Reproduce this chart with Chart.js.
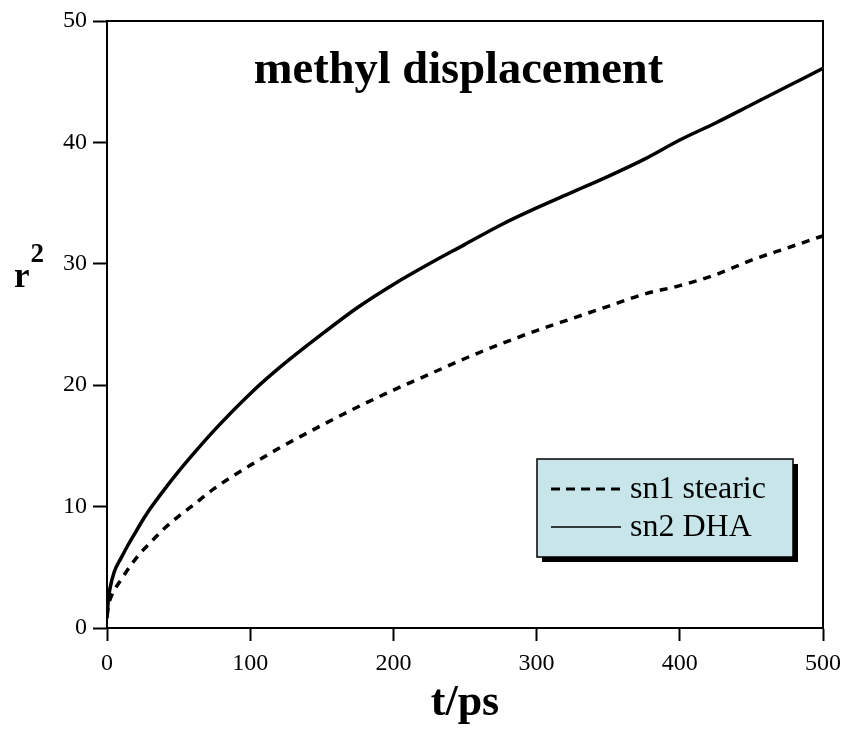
<!DOCTYPE html>
<html>
<head>
<meta charset="utf-8">
<script src="https://cdn.jsdelivr.net/npm/chart.js@4.4.1/dist/chart.umd.min.js"></script>
<style>
  html, body { margin: 0; padding: 0; background: #ffffff; }
  #wrap { width: 843px; height: 733px; position: relative; }
</style>
</head>
<body>
<div id="wrap"><canvas id="c" width="843" height="733"></canvas></div>
<script>
// ---- data ----
const chartTitle = "methyl displacement";
const xAxisTitle = "t/ps";
const yAxisTitleBase = "r";
const yAxisTitleSup = "2";
const times = [0, 1, 2, 5, 10, 15, 20, 25, 30, 40, 50, 60, 75, 100, 120, 150, 175, 200, 225, 250, 275, 300, 325, 350, 375, 400, 425, 450, 475, 500];
const stearicR2 = [1.0, 1.8, 2.3, 3.1, 4.0, 4.9, 5.7, 6.4, 7.0, 8.2, 9.2, 10.1, 11.5, 13.4, 14.8, 16.7, 18.2, 19.6, 20.9, 22.2, 23.4, 24.5, 25.5, 26.5, 27.5, 28.2, 29.1, 30.3, 31.3, 32.3];
const dhaR2 = [0.8, 2.4, 3.2, 4.6, 5.8, 6.9, 7.9, 8.9, 9.8, 11.4, 12.9, 14.3, 16.3, 19.3, 21.4, 24.2, 26.4, 28.3, 30.0, 31.6, 33.2, 34.6, 35.9, 37.2, 38.6, 40.2, 41.6, 43.1, 44.6, 46.1];
const seriesLabels = ["sn1 stearic", "sn2 DHA"];
const xTicks = [0, 100, 200, 300, 400, 500];
const yTicks = [0, 10, 20, 30, 40, 50];

const SERIF = "'Liberation Serif', 'Times New Roman', serif";

const toPoints = (xs, ys) => xs.map((x, i) => ({ x: x, y: ys[i] }));

const framePlugin = {
  id: 'frame',
  afterDatasetsDraw(chart) {
    const { ctx, chartArea: a } = chart;
    ctx.save();
    ctx.strokeStyle = '#000';
    ctx.lineWidth = 2;
    ctx.beginPath();
    ctx.moveTo(a.left, a.top);
    ctx.lineTo(a.right, a.top);
    ctx.lineTo(a.right, a.bottom);
    ctx.stroke();
    ctx.restore();
  }
};

const textPlugin = {
  id: 'texts',
  afterDraw(chart) {
    const { ctx } = chart;
    ctx.save();
    ctx.fillStyle = '#000';
    // title inside plot
    ctx.font = "bold 46.5px " + SERIF;
    ctx.textAlign = 'center';
    ctx.textBaseline = 'alphabetic';
    ctx.fillText(chartTitle, 458.5, 83);
    // x axis title
    ctx.font = "bold 44px " + SERIF;
    ctx.fillText(xAxisTitle, 465, 715);
    // y axis title r^2
    ctx.textAlign = 'left';
    ctx.font = "bold 35px " + SERIF;
    ctx.fillText(yAxisTitleBase, 14, 287);
    const rw = ctx.measureText(yAxisTitleBase).width;
    ctx.font = "bold 27px " + SERIF;
    ctx.fillText(yAxisTitleSup, 14 + rw + 1, 262);
    ctx.restore();
  }
};

const legendPlugin = {
  id: 'boxLegend',
  afterDraw(chart) {
    const { ctx, chartArea: a } = chart;
    const w = 256, h = 98;
    const x0 = a.right - 30 - w, y0 = a.bottom - 71 - h;
    ctx.save();
    // shadow
    ctx.fillStyle = '#000';
    ctx.fillRect(x0 + 5, y0 + 5, w, h);
    // box
    ctx.fillStyle = '#c8e6ea';
    ctx.fillRect(x0, y0, w, h);
    ctx.strokeStyle = '#000';
    ctx.lineWidth = 1.5;
    ctx.strokeRect(x0, y0, w, h);
    // entries
    const rows = [y0 + 30, y0 + 68];
    chart.data.datasets.forEach((ds, i) => {
      const y = rows[i];
      ctx.beginPath();
      ctx.setLineDash(ds.legendDash || []);
      ctx.lineWidth = ds.legendLineWidth;
      ctx.strokeStyle = '#000';
      ctx.moveTo(x0 + 14, y);
      ctx.lineTo(x0 + 84, y);
      ctx.stroke();
      ctx.setLineDash([]);
      ctx.fillStyle = '#000';
      ctx.font = "32px " + SERIF;
      ctx.textAlign = 'left';
      ctx.textBaseline = 'middle';
      ctx.fillText(ds.label, x0 + 93, y + 1);
    });
    ctx.restore();
  }
};

new Chart(document.getElementById('c'), {
  type: 'line',
  data: {
    datasets: [
      {
        label: seriesLabels[0],
        data: toPoints(times, stearicR2),
        borderColor: '#000',
        borderWidth: 3.5,
        borderDash: [8, 7],
        legendDash: [9, 6],
        legendLineWidth: 3,
        pointRadius: 0,
        fill: false,
        cubicInterpolationMode: 'monotone'
      },
      {
        label: seriesLabels[1],
        data: toPoints(times, dhaR2),
        borderColor: '#000',
        borderWidth: 3.5,
        legendLineWidth: 1.5,
        pointRadius: 0,
        fill: false,
        cubicInterpolationMode: 'monotone'
      }
    ]
  },
  options: {
    responsive: false,
    animation: false,
    devicePixelRatio: 1,
    layout: { padding: { left: 0, top: 21, right: 20, bottom: 0 } },
    plugins: { legend: { display: false }, title: { display: false }, tooltip: { enabled: false } },
    scales: {
      x: {
        type: 'linear',
        min: 0, max: 500,
        afterBuildTicks: (s) => { s.ticks = xTicks.map(v => ({ value: v })); },
        ticks: { color: '#000', font: { family: SERIF, size: 24 }, padding: 8, maxRotation: 0, autoSkip: false },
        grid: { display: true, drawOnChartArea: false, drawTicks: true, tickLength: 13, tickWidth: 2, tickColor: '#000' },
        border: { display: true, color: '#000', width: 2 },
        afterFit: (s) => { s.height = 105; s.paddingLeft = 0; s.paddingRight = 0; }
      },
      y: {
        type: 'linear',
        min: 0, max: 50,
        afterBuildTicks: (s) => { s.ticks = yTicks.map(v => ({ value: v })); },
        ticks: { color: '#000', font: { family: SERIF, size: 24 }, padding: 6, autoSkip: false },
        grid: { display: true, drawOnChartArea: false, drawTicks: true, tickLength: 14, tickWidth: 2, tickColor: '#000' },
        border: { display: true, color: '#000', width: 2 },
        afterFit: (s) => { s.width = 107; s.paddingTop = 0; s.paddingBottom = 0; }
      }
    }
  },
  plugins: [framePlugin, textPlugin, legendPlugin]
});
</script>
</body>
</html>
